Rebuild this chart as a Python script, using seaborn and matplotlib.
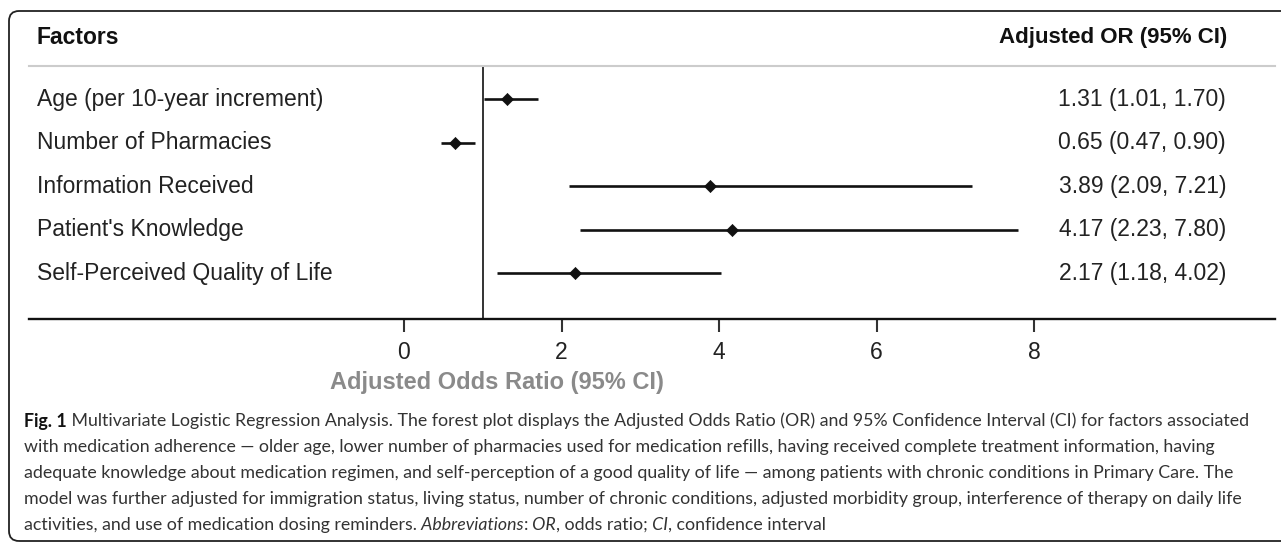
import numpy as np
import pandas as pd
import matplotlib
matplotlib.use("Agg")
import matplotlib.pyplot as plt
import matplotlib.transforms as mtransforms
from matplotlib.patches import FancyBboxPatch
import seaborn as sns

# data
factors = ["Age (per 10-year increment)", "Number of Pharmacies", "Information Received",
           "Patient's Knowledge", "Self-Perceived Quality of Life"]
odds = [1.31, 0.65, 3.89, 4.17, 2.17]
ci_low = [1.01, 0.47, 2.09, 2.23, 1.18]
ci_high = [1.70, 0.90, 7.21, 7.80, 4.02]
xticks = [0, 2, 4, 6, 8]

df = pd.DataFrame({"factor": factors, "OR": odds, "lo": ci_low, "hi": ci_high})
df["row"] = np.arange(len(df))

sns.set_theme(style="ticks")
plt.rcParams["font.family"] = ["Liberation Sans", "DejaVu Sans"]

W, H = 1281, 544
fig = plt.figure(figsize=(W / 100, H / 100), dpi=100)
px = mtransforms.IdentityTransform()

# axes run a little below the axis line so the tick marks sit inside them
ax = fig.add_axes([29 / W, (H - 340) / H, (1275 - 29) / W, (340 - 66) / H])
spine_frac = 21 / 274

ax.hlines(df["row"], df["lo"], df["hi"], color="#111111", lw=1.9)
sns.scatterplot(data=df, x="OR", y="row", marker="D", s=38, color="#111111",
                edgecolor="#111111", ax=ax, zorder=3, legend=False)
ax.axvline(1, ymin=spine_frac, ymax=1, color="#333333", lw=1.4)

ax.set_xlim((29 - 404) / 78.75, (1275 - 404) / 78.75)
ax.set_ylim(4 + 1.06 + 21 / 43.4, -0.77)
ax.set_xticks(xticks)
ax.set_xticklabels([str(t) for t in xticks])
ax.set_yticks([])
ax.set_ylabel("")
ax.spines["bottom"].set_position(("axes", spine_frac))
ax.xaxis.set_ticks_position("bottom")
ax.tick_params(axis="x", direction="out", length=9.5, width=1.5, color="#333333",
               pad=6, labelsize=16.5, labelcolor="#222222")
for s in ["left", "right"]:
    ax.spines[s].set_visible(False)
ax.spines["top"].set_color("#cccccc")
ax.spines["top"].set_linewidth(1.5)
ax.spines["bottom"].set_color("#111111")
ax.spines["bottom"].set_linewidth(1.7)
ax.spines["bottom"].set_zorder(4)

ax.set_xlabel("Adjusted Odds Ratio (95% CI)", fontsize=17, fontweight="bold", color="#8a8a8a")
ax.xaxis.set_label_coords(0.3756, -0.113)

# row labels and OR text columns
trans = mtransforms.blended_transform_factory(ax.transAxes, ax.transData)
for i, r in df.iterrows():
    ax.text(0.0064, r["row"], r["factor"], transform=trans, ha="left", va="center",
            fontsize=16.5, color="#222222")
    ax.text(0.9607, r["row"], f"{r['OR']:.2f} ({r['lo']:.2f}, {r['hi']:.2f})", transform=trans,
            ha="right", va="center", fontsize=16.5, color="#222222")

fig.text(36, H - 37, "Factors", transform=px, ha="left", va="center", fontsize=16.5,
         fontweight="bold", color="#111111")
fig.text(1227, H - 37, "Adjusted OR (95% CI)", transform=px, ha="right", va="center",
         fontsize=16, fontweight="bold", color="#111111")

# outer rounded frame (cut by right edge of the image)
frame = FancyBboxPatch((9, 3), 1290, H - 14, boxstyle="round,pad=0,rounding_size=10",
                       transform=px, fill=False, lw=1.3, ec="#222222")
fig.add_artist(frame)

# caption, drawn run by run so bold / italic pieces can sit inline
cap_lines = [
    [("Fig. 1", "b"), (" Multivariate Logistic Regression Analysis. The forest plot displays the Adjusted Odds Ratio (OR) and 95% Confidence Interval (CI) for factors associated", "n")],
    [("with medication adherence \u2014 older age, lower number of pharmacies used for medication refills, having received complete treatment information, having", "n")],
    [("adequate knowledge about medication regimen, and self-perception of a good quality of life \u2014 among patients with chronic conditions in Primary Care. The", "n")],
    [("model was further adjusted for immigration status, living status, number of chronic conditions, adjusted morbidity group, interference of therapy on daily life", "n")],
    [("activities, and use of medication dosing reminders.", "n"), (" Abbreviations", "i"), (":", "n"),
     (" OR", "i"), (", odds ratio;", "n"), (" CI", "i"), (", confidence interval", "n")],
]
cap_y = [421, 447, 473, 499, 525]
cap_fs = 12.75

renderer = fig.canvas.get_renderer()
for runs, y in zip(cap_lines, cap_y):
    x = 24
    for s, st in runs:
        t = fig.text(x, H - y, s, transform=px, ha="left", va="center", fontsize=cap_fs,
                     family=["Lato", "DejaVu Sans"],
                     fontweight="bold" if st == "b" else "normal",
                     fontstyle="italic" if st == "i" else "normal",
                     color="#111111" if st == "b" else "#333333")
        x += t.get_window_extent(renderer).width

fig.savefig("out.png", dpi=100)
